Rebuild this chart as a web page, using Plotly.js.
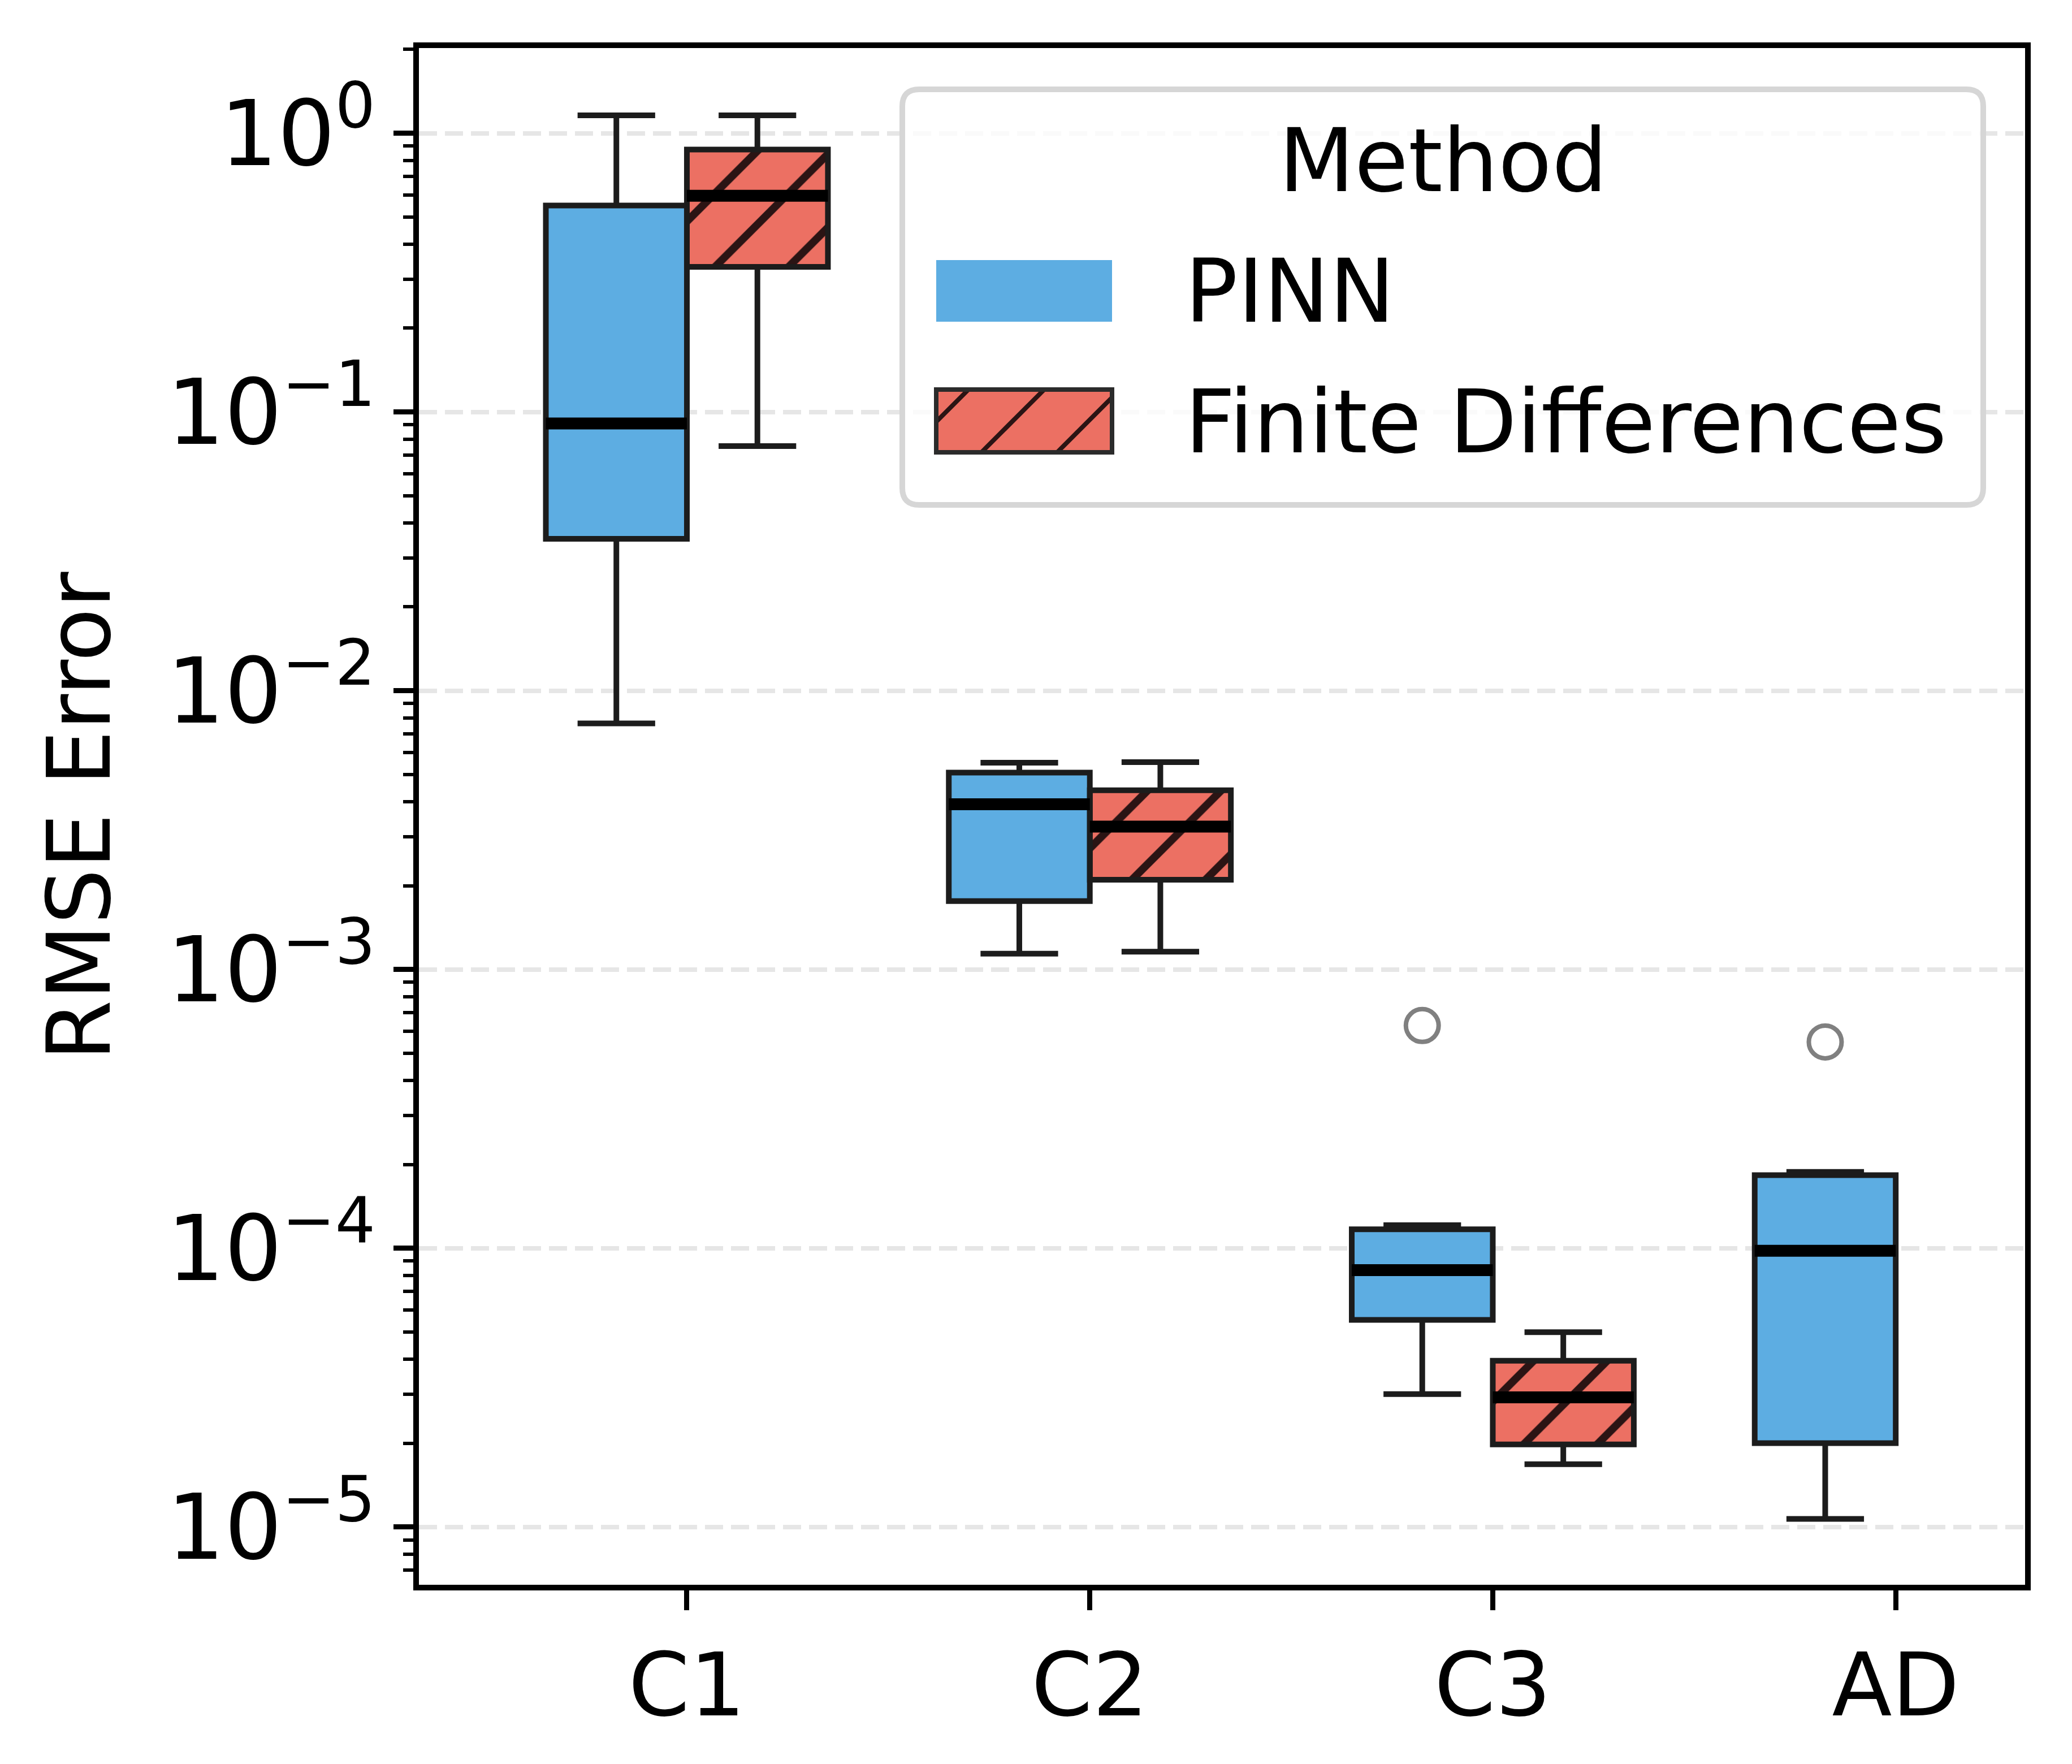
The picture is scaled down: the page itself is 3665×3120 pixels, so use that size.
<!DOCTYPE html>
<html><head><meta charset="utf-8">
<script src="https://cdn.plot.ly/plotly-3.0.1.min.js"></script>
<style>html,body{margin:0;padding:0;background:#fff}#chart{width:3665px;height:3120px}</style>
</head><body><div id="chart"></div>
<script>
// ---- data ----
const categories = ['C1', 'C2', 'C3', 'AD'];
const methods = ['PINN', 'Finite Differences'];
const legendTitle = 'Method';
const yTickVals = [1, 0.1, 0.01, 0.001, 0.0001, 0.00001];
const yTickText = ['10<sup>0</sup>', '10<sup>−1</sup>', '10<sup>−2</sup>', '10<sup>−3</sup>', '10<sup>−4</sup>', '10<sup>−5</sup>'];

const pinnCats     = ['C1', 'C2', 'C3', 'AD'];
const pinnLower    = [0.00764, 0.00114, 3.0e-5, 1.07e-5];
const pinnQ1       = [0.0351, 0.00176, 5.54e-5, 2.0e-5];
const pinnMedian   = [0.0910, 0.00392, 8.35e-5, 9.8e-5];
const pinnQ3       = [0.551, 0.00509, 1.17e-4, 1.83e-4];
const pinnUpper    = [1.16, 0.00552, 1.21e-4, 1.88e-4];
const pinnOutlierCats = ['C3', 'AD'];
const pinnOutliers    = [6.3e-4, 5.5e-4];

const fdCats   = ['C1', 'C2', 'C3'];
const fdLower  = [0.0755, 0.00116, 1.68e-5];
const fdQ1     = [0.332, 0.00210, 1.98e-5];
const fdMedian = [0.5975, 0.00326, 2.92e-5];
const fdQ3     = [0.875, 0.00440, 3.95e-5];
const fdUpper  = [1.16, 0.00555, 5.0e-5];

// ---- styles ----
const BLUE = '#5DADE2', RED = '#EC7063', EDGE = '#1c1c1c', HATCH = '#2b1414';
const FONT = 'DejaVu Sans';
const FS = 155;

const diff = (a, b) => a.map((v, i) => v - b[i]);

const traces = [
  // box bodies (fill + hatch)
  {type: 'bar', x: pinnCats, base: pinnQ1, y: diff(pinnQ3, pinnQ1), width: 0.35, offset: -0.35,
   alignmentgroup: 'bodies', marker: {color: BLUE, line: {width: 0}}, showlegend: false, hoverinfo: 'skip'},
  {type: 'bar', x: fdCats, base: fdQ1, y: diff(fdQ3, fdQ1), width: 0.35, offset: 0,
   alignmentgroup: 'bodies',
   marker: {color: RED, line: {width: 0},
            pattern: {shape: '/', size: 92, solidity: 0.15, fgcolor: HATCH, bgcolor: RED, fillmode: 'replace'}},
   showlegend: false, hoverinfo: 'skip'},
  // box outlines + whiskers
  {type: 'box', name: methods[0], x: pinnCats, q1: pinnQ1, median: pinnMedian, q3: pinnQ3,
   lowerfence: pinnLower, upperfence: pinnUpper, boxpoints: false,
   alignmentgroup: 'boxes', offsetgroup: 'pinn', fillcolor: 'rgba(0,0,0,0)', line: {color: EDGE, width: 10},
   whiskerwidth: 0.55, showlegend: false},
  {type: 'box', name: methods[1], x: fdCats, q1: fdQ1, median: fdMedian, q3: fdQ3,
   lowerfence: fdLower, upperfence: fdUpper, boxpoints: false,
   alignmentgroup: 'boxes', offsetgroup: 'fd', fillcolor: 'rgba(0,0,0,0)', line: {color: EDGE, width: 10},
   whiskerwidth: 0.55, showlegend: false},
  // thick median lines
  {type: 'box', x: pinnCats, q1: pinnMedian, median: pinnMedian, q3: pinnMedian,
   lowerfence: pinnMedian, upperfence: pinnMedian, boxpoints: false,
   alignmentgroup: 'boxes', offsetgroup: 'pinn',
   fillcolor: 'rgba(0,0,0,0)', line: {color: '#000', width: 21}, whiskerwidth: 0, showlegend: false, hoverinfo: 'skip'},
  {type: 'box', x: fdCats, q1: fdMedian, median: fdMedian, q3: fdMedian,
   lowerfence: fdMedian, upperfence: fdMedian, boxpoints: false,
   alignmentgroup: 'boxes', offsetgroup: 'fd',
   fillcolor: 'rgba(0,0,0,0)', line: {color: '#000', width: 21}, whiskerwidth: 0, showlegend: false, hoverinfo: 'skip'},
  // outliers
  {type: 'scatter', mode: 'markers', x: pinnOutlierCats, y: pinnOutliers, orientation: 'v',
   alignmentgroup: 'boxes', offsetgroup: 'pinn',
   marker: {symbol: 'circle-open', size: 58, color: '#808080', line: {width: 8, color: '#808080'}},
   showlegend: false}
];

// ---- plot-area geometry (px) for the hand-drawn legend ----
const L = 741, R = 3582, T = 85, B = 2803;
const px = x => (x - L) / (R - L);
const py = y => (B - y) / (B - T);
const P = (x, y) => px(x) + ',' + py(y);
function roundRect(x0, y0, x1, y1, r) {
  return 'M' + P(x0 + r, y0) + ' L' + P(x1 - r, y0) + ' Q' + P(x1, y0) + ' ' + P(x1, y0 + r) +
    ' L' + P(x1, y1 - r) + ' Q' + P(x1, y1) + ' ' + P(x1 - r, y1) +
    ' L' + P(x0 + r, y1) + ' Q' + P(x0, y1) + ' ' + P(x0, y1 - r) +
    ' L' + P(x0, y0 + r) + ' Q' + P(x0, y0) + ' ' + P(x0 + r, y0) + ' Z';
}
const shapes = [];
shapes.push({type: 'path', xref: 'paper', yref: 'paper', path: roundRect(1596, 158, 3508, 893, 30),
  fillcolor: 'rgba(255,255,255,0.8)', line: {color: '#d6d6d6', width: 10}, layer: 'above'});
// PINN patch
shapes.push({type: 'rect', xref: 'paper', yref: 'paper', x0: px(1656), x1: px(1967), y0: py(569), y1: py(460),
  fillcolor: BLUE, line: {width: 0}, layer: 'above'});
// FD patch
const fx0 = 1656, fx1 = 1967, fy0 = 689, fy1 = 800;
shapes.push({type: 'rect', xref: 'paper', yref: 'paper', x0: px(fx0), x1: px(fx1), y0: py(fy1), y1: py(fy0),
  fillcolor: RED, line: {width: 0}, layer: 'above'});
const period = 134, phase = 2536;
let c = phase - Math.ceil((phase - (fx0 + fy0)) / period) * period;
for (; c <= fx1 + fy1; c += period) {
  const xa = Math.max(fx0, c - fy1), xb = Math.min(fx1, c - fy0);
  if (xb <= xa) continue;
  shapes.push({type: 'line', xref: 'paper', yref: 'paper', x0: px(xa), y0: py(c - xa), x1: px(xb), y1: py(c - xb),
    line: {color: HATCH, width: 8}, layer: 'above'});
}
shapes.push({type: 'rect', xref: 'paper', yref: 'paper', x0: px(fx0), x1: px(fx1), y0: py(fy1), y1: py(fy0),
  fillcolor: 'rgba(0,0,0,0)', line: {color: '#2b2b2b', width: 8}, layer: 'above'});

const annotations = [
  {text: legendTitle, xref: 'paper', yref: 'paper', x: px(2552), y: py(284), xanchor: 'center', yanchor: 'middle', showarrow: false, font: {size: FS}},
  {text: methods[0], xref: 'paper', yref: 'paper', x: px(2094), y: py(516), xanchor: 'left', yanchor: 'middle', showarrow: false, font: {size: FS}},
  {text: methods[1], xref: 'paper', yref: 'paper', x: px(2094), y: py(747), xanchor: 'left', yanchor: 'middle', showarrow: false, font: {size: FS}}
];

const layout = {
  width: 3665, height: 3120,
  margin: {l: L, r: 3665 - R, t: T, b: 3120 - B, pad: 0},
  paper_bgcolor: '#fff', plot_bgcolor: '#fff',
  font: {family: FONT, size: FS, color: '#000'},
  showlegend: false,
  boxmode: 'group', boxgap: 0.3, boxgroupgap: 0,
  barmode: 'overlay',
  scattermode: 'group', scattergap: 0.3,
  xaxis: {type: 'category', categoryorder: 'array', categoryarray: categories,
    range: [-0.665, 3.321], showgrid: false, zeroline: false,
    showline: true, linecolor: '#000', linewidth: 10, mirror: true,
    ticks: 'outside', ticklen: 35, tickwidth: 9, tickcolor: '#000',
    tickfont: {size: FS}},
  yaxis: {type: 'log', range: [-5.207, 0.306], zeroline: false,
    tickmode: 'array', tickvals: yTickVals, ticktext: yTickText,
    showgrid: true, gridcolor: '#e6e6e6', gridwidth: 8, griddash: '32px,14px',
    showline: true, linecolor: '#000', linewidth: 10, mirror: true,
    ticks: 'outside', ticklen: 35, tickwidth: 9, tickcolor: '#000',
    minor: {ticks: 'outside', ticklen: 18, tickwidth: 6, tickcolor: '#000', dtick: 'D1', showgrid: false},
    tickfont: {size: 160},
    title: {text: 'RMSE Error', font: {size: FS}, standoff: 52}},
  shapes: shapes,
  annotations: annotations
};

Plotly.newPlot('chart', traces, layout, {staticPlot: true, displayModeBar: false});
</script>
</body></html>
